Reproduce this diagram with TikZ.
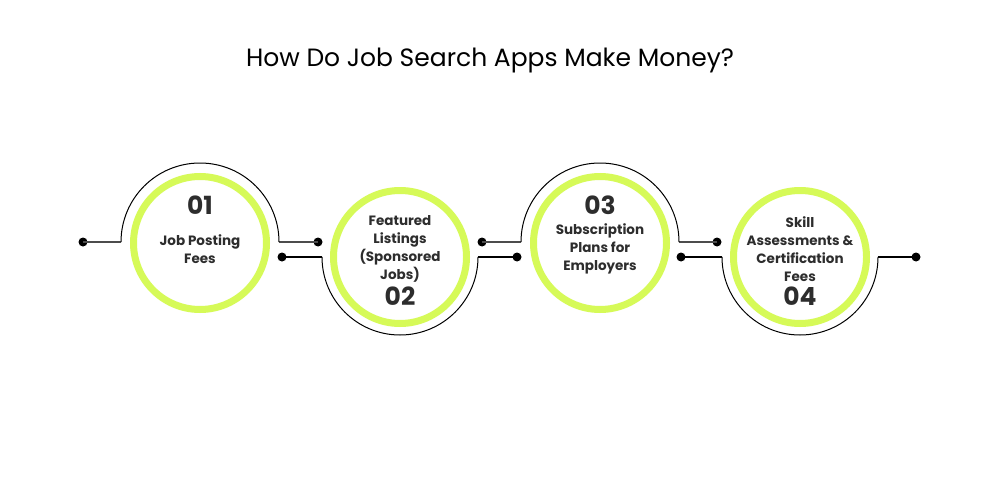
\documentclass[tikz,border=0pt]{standalone}
\usepackage{fontspec}
\setmainfont{Poppins}
\definecolor{lime}{RGB}{214,250,88}
\definecolor{ink}{RGB}{45,45,45}
\begin{document}
\begin{tikzpicture}[x=1pt,y=-1pt,
  ring/.style={circle,draw=lime,line width=7pt,minimum size=133pt,inner sep=0pt},
  dot/.style={circle,fill=black,minimum size=9pt,inner sep=0pt},
  lbl/.style={font=\bfseries\fontsize{13.5}{18}\selectfont,text=ink,align=center},
  num/.style={font=\bfseries\fontsize{25}{25}\selectfont,text=ink},
  wire/.style={line width=1.3pt,draw=black!70},
  wireb/.style={line width=1.3pt,draw=black},
  arcline/.style={line width=1pt,draw=black}]
\useasboundingbox (0,0) rectangle (1000,500);
\fill[white] (0,0) rectangle (1000,500);
\node[font=\fontsize{25}{30}\selectfont,text=black] (title) at (490,61) {How Do Job Search Apps Make Money?};
% circles
\node[ring] (c1) at (200,243) {};
\node[ring] (c2) at (400,257) {};
\node[ring] (c3) at (600,243) {};
\node[ring] (c4) at (800,257) {};
% dots
\node[dot] (d1a) at (83,242) {};
\node[dot] (d1b) at (318,242) {};
\node[dot] (d2a) at (282,257) {};
\node[dot] (d2b) at (517,257) {};
\node[dot] (d3a) at (482,242) {};
\node[dot] (d3b) at (717,242) {};
\node[dot] (d4a) at (681,257) {};
\node[dot] (d4b) at (916,257) {};
% arc end points
\coordinate (a1l) at (121,242); \coordinate (a1r) at (279,242);
\coordinate (a2l) at (322,257); \coordinate (a2r) at (478,257);
\coordinate (a3l) at (521,242); \coordinate (a3r) at (679,242);
\coordinate (a4l) at (722,257); \coordinate (a4r) at (878,257);
% wires
\draw[wire] (d1a.center) -- (a1l);
\draw[wire] (a1r) -- (d1b.center);
\draw[arcline] (a1l) arc[start angle=180,end angle=360,radius=79];
\draw[wireb] (d2a.center) -- (a2l);
\draw[wireb] (a2r) -- (d2b.center);
\draw[arcline] (a2l) arc[start angle=180,end angle=0,radius=78];
\draw[wire] (d3a.center) -- (a3l);
\draw[wire] (a3r) -- (d3b.center);
\draw[arcline] (a3l) arc[start angle=180,end angle=360,radius=79];
\draw[wireb] (d4a.center) -- (a4l);
\draw[wireb] (a4r) -- (d4b.center);
\draw[arcline] (a4l) arc[start angle=180,end angle=0,radius=78];
% texts
\node[num] (n1) at (200,205) {01};
\node[lbl] (l1) at (200,249) {Job Posting\\Fees};
\node[lbl] (l2) at (400,249) {Featured\\Listings\\(Sponsored\\Jobs)};
\node[num] (n2) at (400,296) {02};
\node[num] (n3) at (600,205) {03};
\node[lbl] (l3) at (600,249) {Subscription\\Plans for\\Employers};
\node[lbl] (l4) at (800,249) {Skill\\Assessments \&\\Certification\\Fees};
\node[num] (n4) at (800,296) {04};
\end{tikzpicture}
\end{document}
